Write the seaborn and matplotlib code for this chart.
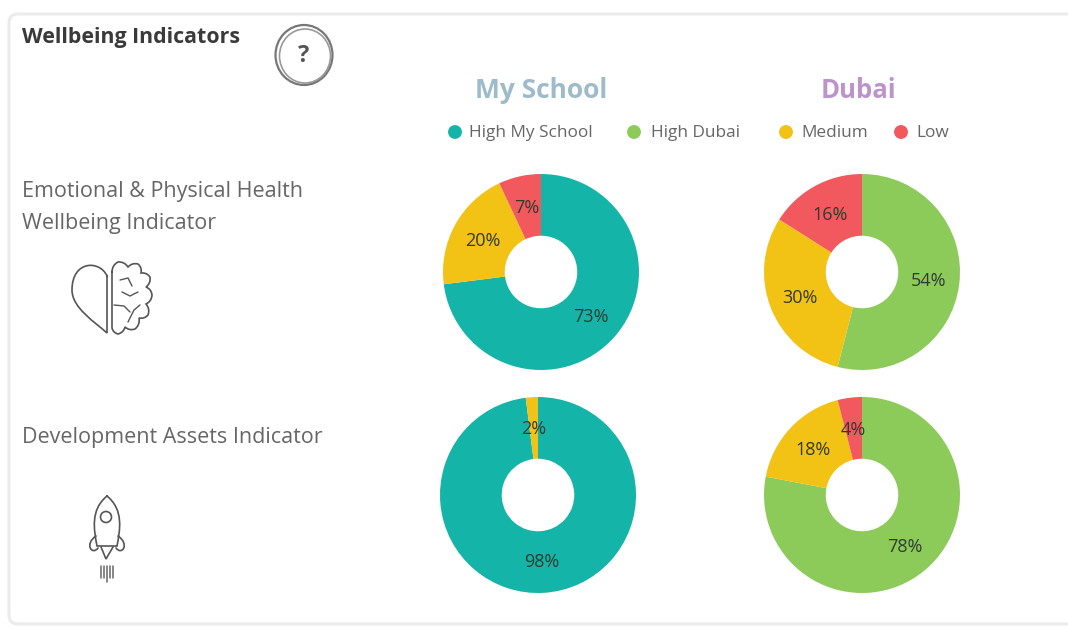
import numpy as np
import pandas as pd
import matplotlib
matplotlib.use("Agg")
import matplotlib.pyplot as plt
import seaborn as sns
from matplotlib.patches import Circle, Ellipse, FancyBboxPatch, PathPatch
from matplotlib.path import Path

W, H = 1068, 627

school_health = [73, 20, 7]
dubai_health = [54, 30, 16]
school_assets = [98, 2]
dubai_assets = [78, 18, 4]

legend_labels = ["High My School", "High Dubai", "Medium", "Low"]
legend_colors = ["#14B5A8", "#8CCB5A", "#F2C215", "#F2595F"]

sns.set_theme(style="white")
plt.rcParams["font.family"] = ["Open Sans", "DejaVu Sans"]

palette = dict(zip(legend_labels, sns.color_palette(legend_colors)))
TEXT = "#666666"
ICON = "#555555"


def px_axes(fig, cx, cy, r):
    # axes placed by pixel centre and radius, y measured from the top
    ax = fig.add_axes([(cx - r) / W, 1 - (cy + r) / H, 2 * r / W, 2 * r / H])
    ax.set_xlim(-1, 1)
    ax.set_ylim(-1, 1)
    return ax


def donut(fig, cx, cy, values, colors):
    ax = px_axes(fig, cx, cy, 98)
    _, _, pct = ax.pie(
        values,
        colors=colors,
        startangle=90,
        counterclock=False,
        radius=1,
        autopct="%.0f%%",
        pctdistance=0.68,
        wedgeprops={"width": 0.63, "linewidth": 0},
        textprops={"fontsize": 13, "color": "#2F3B2F"},
    )
    for t in pct:
        t.set_y(t.get_position()[1] - 0.01)
    ax.set_xlim(-1, 1)
    ax.set_ylim(-1, 1)


def stroke(ax, verts, codes=None, lw=1.2):
    path = Path(verts, codes) if codes else Path(verts)
    ax.add_patch(PathPatch(path, fill=False, edgecolor=ICON, linewidth=lw, capstyle="round"))


fig = plt.figure(figsize=(W / 100, H / 100), dpi=100, facecolor="white")

# Full figure overlay in pixel coordinates for card, text and icons
bg = fig.add_axes([0, 0, 1, 1])
bg.set_xlim(0, W)
bg.set_ylim(H, 0)
bg.axis("off")

bg.add_patch(FancyBboxPatch((9, 14), W + 40, 610, boxstyle="round,pad=0,rounding_size=9",
                            fill=False, edgecolor="#EBEBEB", linewidth=2.2))

bg.text(22, 37, "Wellbeing Indicators", fontsize=15.4, fontweight="bold", color="#3A3A3A", va="center")
bg.text(22, 192, "Emotional & Physical Health", fontsize=15.5, color=TEXT, va="center")
bg.text(22, 224, "Wellbeing Indicator", fontsize=15.5, color=TEXT, va="center")
bg.text(22, 438, "Development Assets Indicator", fontsize=15.5, color=TEXT, va="center")

bg.text(541, 90, "My School", fontsize=19, fontweight="bold", color="#9DBBCB", ha="center", va="center")
bg.text(858, 90, "Dubai", fontsize=18.5, fontweight="bold", color="#BC94CC", ha="center", va="center")

# Legend dots
legend_x = [455, 634, 786, 901]
legend_text_x = [469, 651, 801, 916]
legend_df = pd.DataFrame({"label": legend_labels, "x": legend_x, "y": [132] * 4})
sns.scatterplot(data=legend_df, x="x", y="y", hue="label", palette=palette, s=100,
                linewidth=0, legend=False, ax=bg)
bg.set_xlim(0, W)
bg.set_ylim(H, 0)
for lab, x in zip(legend_labels, legend_text_x):
    bg.text(x, 133, lab, fontsize=12.4, color=TEXT, va="center")

# Question mark icon
bg.add_patch(Ellipse((304, 55), 57, 60, fill=False, edgecolor="#777777", linewidth=1.6))
bg.add_patch(Ellipse((305, 56), 51, 54, fill=False, edgecolor="#999999", linewidth=1.2))
bg.text(304, 56, "?", fontsize=17, fontweight="bold", color="#555555", ha="center", va="center")

# Heart half
stroke(bg, [(107, 276), (100, 260), (72, 260), (72, 290), (72, 308), (95, 322), (107, 333), (107, 276)],
       [Path.MOVETO, Path.CURVE4, Path.CURVE4, Path.CURVE4, Path.CURVE4, Path.CURVE4, Path.CURVE4, Path.LINETO])
# Brain half, scalloped outline
brain = [(112, 272), (118, 262), (128, 267), (138, 264), (141, 273), (150, 277), (146, 287),
         (152, 295), (146, 304), (148, 315), (139, 318), (135, 329), (125, 327), (118, 334), (112, 328)]
verts = [brain[0]]
codes = [Path.MOVETO]
for a, b in zip(brain[:-1], brain[1:]):
    mid = ((a[0] + b[0]) / 2 + (a[1] - b[1]) * -0.3, (a[1] + b[1]) / 2 + (b[0] - a[0]) * -0.3)
    verts += [mid, b]
    codes += [Path.CURVE3, Path.CURVE3]
verts.append(brain[0])
codes.append(Path.LINETO)
stroke(bg, verts, codes)
stroke(bg, [(120, 280), (128, 278), (132, 286)], lw=1)
stroke(bg, [(138, 292), (130, 296), (122, 292)], lw=1)
stroke(bg, [(114, 305), (124, 306), (130, 312)], lw=1)
stroke(bg, [(140, 305), (134, 310), (128, 322)], lw=1)

# Rocket
stroke(bg, [(107, 496), (90, 510), (94, 530), (97, 546), (117, 546), (120, 530), (124, 510), (107, 496)],
       [Path.MOVETO, Path.CURVE4, Path.CURVE4, Path.CURVE4, Path.LINETO, Path.CURVE4, Path.CURVE4, Path.CURVE4])
bg.add_patch(Circle((106, 517), 5.5, fill=False, edgecolor=ICON, linewidth=1.2))
stroke(bg, [(96, 536), (84, 544), (92, 556), (98, 548)], [Path.MOVETO, Path.CURVE4, Path.CURVE4, Path.CURVE4])
stroke(bg, [(118, 536), (130, 544), (122, 556), (116, 548)], [Path.MOVETO, Path.CURVE4, Path.CURVE4, Path.CURVE4])
stroke(bg, [(101, 547), (106, 559), (113, 547)])
for x in [101, 104, 107, 110, 113]:
    bg.plot([x, x], [566, 582 if x == 107 else 578], color="#666666", linewidth=1.1)

donut(fig, 541, 272, school_health, [legend_colors[0], legend_colors[2], legend_colors[3]])
donut(fig, 862, 272, dubai_health, [legend_colors[1], legend_colors[2], legend_colors[3]])
donut(fig, 538, 495, school_assets, [legend_colors[0], legend_colors[2]])
donut(fig, 862, 495, dubai_assets, [legend_colors[1], legend_colors[2], legend_colors[3]])

fig.savefig("out.png", dpi=100)
